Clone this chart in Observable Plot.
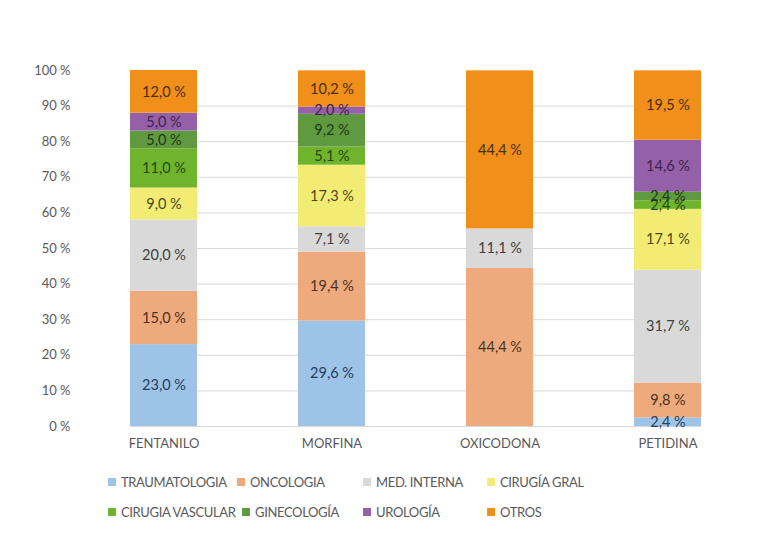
<!DOCTYPE html>
<html>
<head>
<meta charset="utf-8">
<script src="https://cdn.jsdelivr.net/npm/d3@7"></script>
<script src="https://cdn.jsdelivr.net/npm/@observablehq/plot@0.6"></script>
<style>
  body { margin: 0; background: #fff; font-family: Lato, "Noto Sans", sans-serif; }
  #wrap { position: relative; width: 782px; height: 552px; }
  .leg { position: absolute; font-size: 13px; letter-spacing: -0.35px; color: #595959; white-space: nowrap; display: flex; align-items: center; }
  .leg span.sw { display: inline-block; width: 8px; height: 8px; margin-right: 5px; }
</style>
</head>
<body>
<div id="wrap"></div>
<script>
const categories = ["FENTANILO", "MORFINA", "OXICODONA", "PETIDINA"];
const series = ["TRAUMATOLOGIA", "ONCOLOGIA", "MED. INTERNA", "CIRUGÍA GRAL", "CIRUGIA VASCULAR", "GINECOLOGÍA", "UROLOGÍA", "OTROS"];
const colors = ["#9dc3e6", "#eeaa7c", "#d9d9d9", "#f3ec74", "#6fb42c", "#5f9a40", "#9461a8", "#f0901a"];
const textColors = ["#23405e", "#4a3222", "#404040", "#4a4720", "#1f4a10", "#1d3a14", "#3e2250", "#4a2c08"];
// values per series, in category order
const traumatologia   = [23.0, 29.6, 0,    2.4];
const oncologia       = [15.0, 19.4, 44.4, 9.8];
const medInterna      = [20.0, 7.1,  11.1, 31.7];
const cirugiaGral     = [9.0,  17.3, 0,    17.1];
const cirugiaVascular = [11.0, 5.1,  0,    2.4];
const ginecologia     = [5.0,  9.2,  0,    2.4];
const urologia        = [5.0,  2.0,  0,    14.6];
const otros           = [12.0, 10.2, 44.4, 19.5];
const yTicks = [0, 10, 20, 30, 40, 50, 60, 70, 80, 90, 100];
const gridTicks = [0, 10, 20, 30, 40, 50, 60, 70, 80, 90];

const seriesValues = [traumatologia, oncologia, medInterna, cirugiaGral, cirugiaVascular, ginecologia, urologia, otros];
const data = [];
series.forEach((s, si) => {
  categories.forEach((c, ci) => {
    const v = seriesValues[si][ci];
    if (v > 0) data.push({cat: c, serie: s, value: v, order: si});
  });
});

const fmt = v => v.toFixed(1).replace(".", ",") + " %";

const chart = Plot.plot({
  width: 782,
  height: 460,
  marginTop: 70,
  marginBottom: 34,
  marginLeft: 80,
  marginRight: 30,
  style: {fontFamily: "Lato, 'Noto Sans', sans-serif", fontSize: "13px", color: "#595959", background: "#fff"},
  x: {domain: categories, paddingInner: 0.6, paddingOuter: 0.3, label: null, tickSize: 0, tickPadding: 12},
  y: {domain: [0, 100], ticks: yTicks, label: null, tickSize: 0, tickPadding: 10, tickFormat: d => d + " %"},
  color: {domain: series, range: colors},
  marks: [
    Plot.ruleY(gridTicks, {stroke: "#d9d9d9", strokeWidth: 1, insetLeft: 51, insetRight: 51}),
    Plot.barY(data, Plot.stackY({x: "cat", y: "value", fill: "serie", order: "order"})),
    Plot.text(data, Plot.stackY({
      x: "cat", y: "value", order: "order",
      text: d => fmt(d.value),
      fill: d => textColors[d.order],
      fontSize: 14.5
    })),
    Plot.axisX({tickSize: 0, tickPadding: 12, fill: "#595959", fontSize: 13}),
    Plot.axisY({ticks: yTicks, tickSize: 0, tickPadding: 10, tickFormat: d => d + " %", fill: "#595959", fontSize: 13})
  ]
});

const wrap = document.getElementById("wrap");
wrap.appendChild(chart);

const legPos = [
  [108, 482], [237, 482], [363, 482], [487, 482],
  [108, 512], [242, 512], [363, 512], [487, 512]
];
series.forEach((s, i) => {
  const d = document.createElement("div");
  d.className = "leg";
  d.style.left = legPos[i][0] + "px";
  d.style.top = (legPos[i][1] - 9) + "px";
  d.style.height = "18px";
  const sw = document.createElement("span");
  sw.className = "sw";
  sw.style.background = colors[i];
  d.appendChild(sw);
  d.appendChild(document.createTextNode(s));
  wrap.appendChild(d);
});
</script>
</body>
</html>
